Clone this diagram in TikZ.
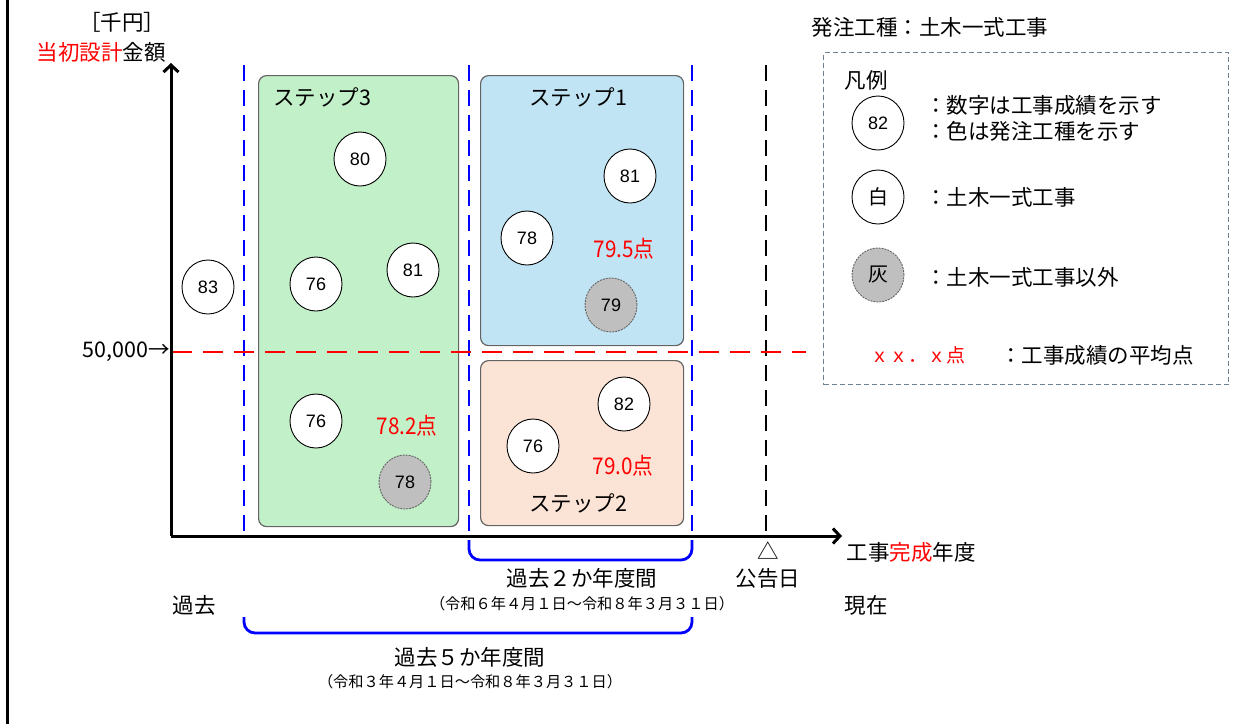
\documentclass[tikz,border=0pt]{standalone}
\usepackage{fontspec}
\setmainfont{Noto Sans CJK JP}
\newfontfamily\numfont{Liberation Sans}
\usetikzlibrary{arrows.meta,shapes.geometric}
\definecolor{grn}{RGB}{194,240,200}
\definecolor{blu}{RGB}{193,228,245}
\definecolor{org}{RGB}{251,227,214}
\definecolor{gry}{RGB}{191,191,191}
\definecolor{edg}{RGB}{100,100,100}
\definecolor{lgd}{RGB}{110,130,150}
\definecolor{rd}{RGB}{255,0,0}
\definecolor{bl}{RGB}{0,0,255}
\tikzset{
  stepbox/.style={draw=edg,line width=1.2pt,rounded corners=8pt},
  job/.style={ellipse,draw=black,fill=white,line width=0.9pt,minimum width=52pt,minimum height=54pt,inner sep=0pt,font=\numfont\fontsize{18}{18}\selectfont},
  jobg/.style={job,fill=gry,draw=edg,dashed,dash pattern=on 2pt off 1pt},
  lbl/.style={font=\fontsize{21.5}{23}\selectfont,inner sep=0pt},
  small/.style={font=\fontsize{15.2}{16}\selectfont,inner sep=0pt},
  avg/.style={text=rd,font=\fontsize{23}{24}\selectfont,inner sep=0pt,xscale=0.9},
  bdash/.style={draw=bl,line width=2.8pt,dash pattern=on 16pt off 9pt},
  brk/.style={draw=bl,line width=2.8pt,rounded corners=11pt},
}
\begin{document}
\begin{tikzpicture}[x=1pt,y=-1pt]
\useasboundingbox (0,0) rectangle (1244,724);
% left frame line
\draw[line width=3pt] (7,0) -- (7,724);
% boxes
\node[stepbox,fill=grn,minimum width=200pt,minimum height=451pt,anchor=north west] (s3) at (258,75) {};
\node[stepbox,fill=blu,minimum width=203pt,minimum height=270pt,anchor=north west] (s1) at (480,75) {};
\node[stepbox,fill=org,minimum width=203pt,minimum height=165pt,anchor=north west] (s2) at (480,360) {};
% dashed verticals
\coordinate (v1t) at (244,65); \coordinate (v1b) at (244,532);
\coordinate (v2t) at (469,65); \coordinate (v2b) at (469,540);
\coordinate (v3t) at (692,65); \coordinate (v3b) at (692,540);
\coordinate (v4t) at (766,65); \coordinate (v4b) at (766,536);
\draw[bdash] (v1t) -- (v1b);
\draw[bdash] (v2t) -- (v2b);
\draw[bdash] (v3t) -- (v3b);
\draw[line width=2.8pt,dash pattern=on 16pt off 9pt] (v4t) -- (v4b);
% red dashed line
\coordinate (r1) at (172,352); \coordinate (r2) at (806,352);
\draw[draw=rd,line width=2.8pt,dash pattern=on 20pt off 11pt] (r1) -- (r2);
% axes
\coordinate (o) at (171,536);
\coordinate (yt) at (171,63);
\coordinate (xt) at (842,536);
\draw[line width=3pt,-{Straight Barb[length=7pt,width=15pt]}] (o) -- (yt);
\draw[line width=3pt,-{Straight Barb[length=7pt,width=15pt]}] (o) -- (xt);
% brackets
\draw[brk] (469,540) -- (469,560) -- (692,560) -- (692,540);
\draw[brk] (244,617) -- (244,633) -- (692,633) -- (692,617);
% axis labels
\node[lbl] (unit) at (122,22) {［千円］};
\node[lbl] (ylab) at (101,52) {\textcolor{rd}{当初設計}金額};
\node[lbl,anchor=east] (fifty) at (170,352) {50,000→};
\node[lbl] (xlab) at (911,552) {工事\textcolor{rd}{完成}年度};
\node[lbl] (tri) at (768,551) {△};
\node[lbl] (koku) at (768,578) {公告日};
\node[lbl] (kako) at (194,605) {過去};
\node[lbl] (genz) at (866,605) {現在};
\node[lbl] (p2) at (582,578) {過去２か年度間};
\node[small] (p2d) at (582,604) {（令和６年４月１日～令和８年３月３１日）};
\node[lbl] (p5) at (470,657) {過去５か年度間};
\node[small] (p5d) at (470,682) {（令和３年４月１日～令和８年３月３１日）};
% step titles
\node[lbl] (t3) at (322,97) {ステップ3};
\node[lbl] (t1) at (578,97) {ステップ1};
\node[lbl] (t2) at (578,503) {ステップ2};
% circles
\node[job] (c83) at (208,287) {83};
\node[job] (c80) at (360,159) {80};
\node[job] (c76a) at (316,284) {76};
\node[job] (c81a) at (413,270) {81};
\node[job] (c76b) at (316,421) {76};
\node[jobg] (c78g) at (405,482) {78};
\node[job] (c81b) at (630,176) {81};
\node[job] (c78) at (527,238) {78};
\node[jobg] (c79g) at (611,305) {79};
\node[job] (c82) at (624,404) {82};
\node[job] (c76c) at (533,446) {76};
% averages
\node[avg] (a3) at (407,426) {78.2点};
\node[avg] (a1) at (624,249) {79.5点};
\node[avg] (a2) at (623,466) {79.0点};
% legend
\node[lbl] (kind) at (930,27) {発注工種：土木一式工事};
\node[draw=lgd,line width=1.2pt,dash pattern=on 5pt off 3pt,minimum width=405pt,minimum height=332pt,anchor=north west] (leg) at (823,52) {};
\node[lbl] (hanrei) at (866,80) {凡例};
\node[job] (l82) at (878,123) {82};
\node[lbl,anchor=west] (l1) at (925,105) {：数字は工事成績を示す};
\node[lbl,anchor=west] (l2) at (925,131) {：色は発注工種を示す};
\node[job,font=\fontsize{20}{20}\selectfont] (lw) at (878,197) {白};
\node[lbl,anchor=west] (l3) at (925,197) {：土木一式工事};
\node[jobg,font=\fontsize{20}{20}\selectfont] (lg) at (878,275) {灰};
\node[lbl,anchor=west] (l4) at (925,277) {：土木一式工事以外};
\node[lbl,text=rd,font=\fontsize{19}{20}\selectfont] (lx) at (918,355) {ｘｘ．ｘ点};
\node[lbl] (l5) at (1097,355) {：工事成績の平均点};
\end{tikzpicture}
\end{document}
